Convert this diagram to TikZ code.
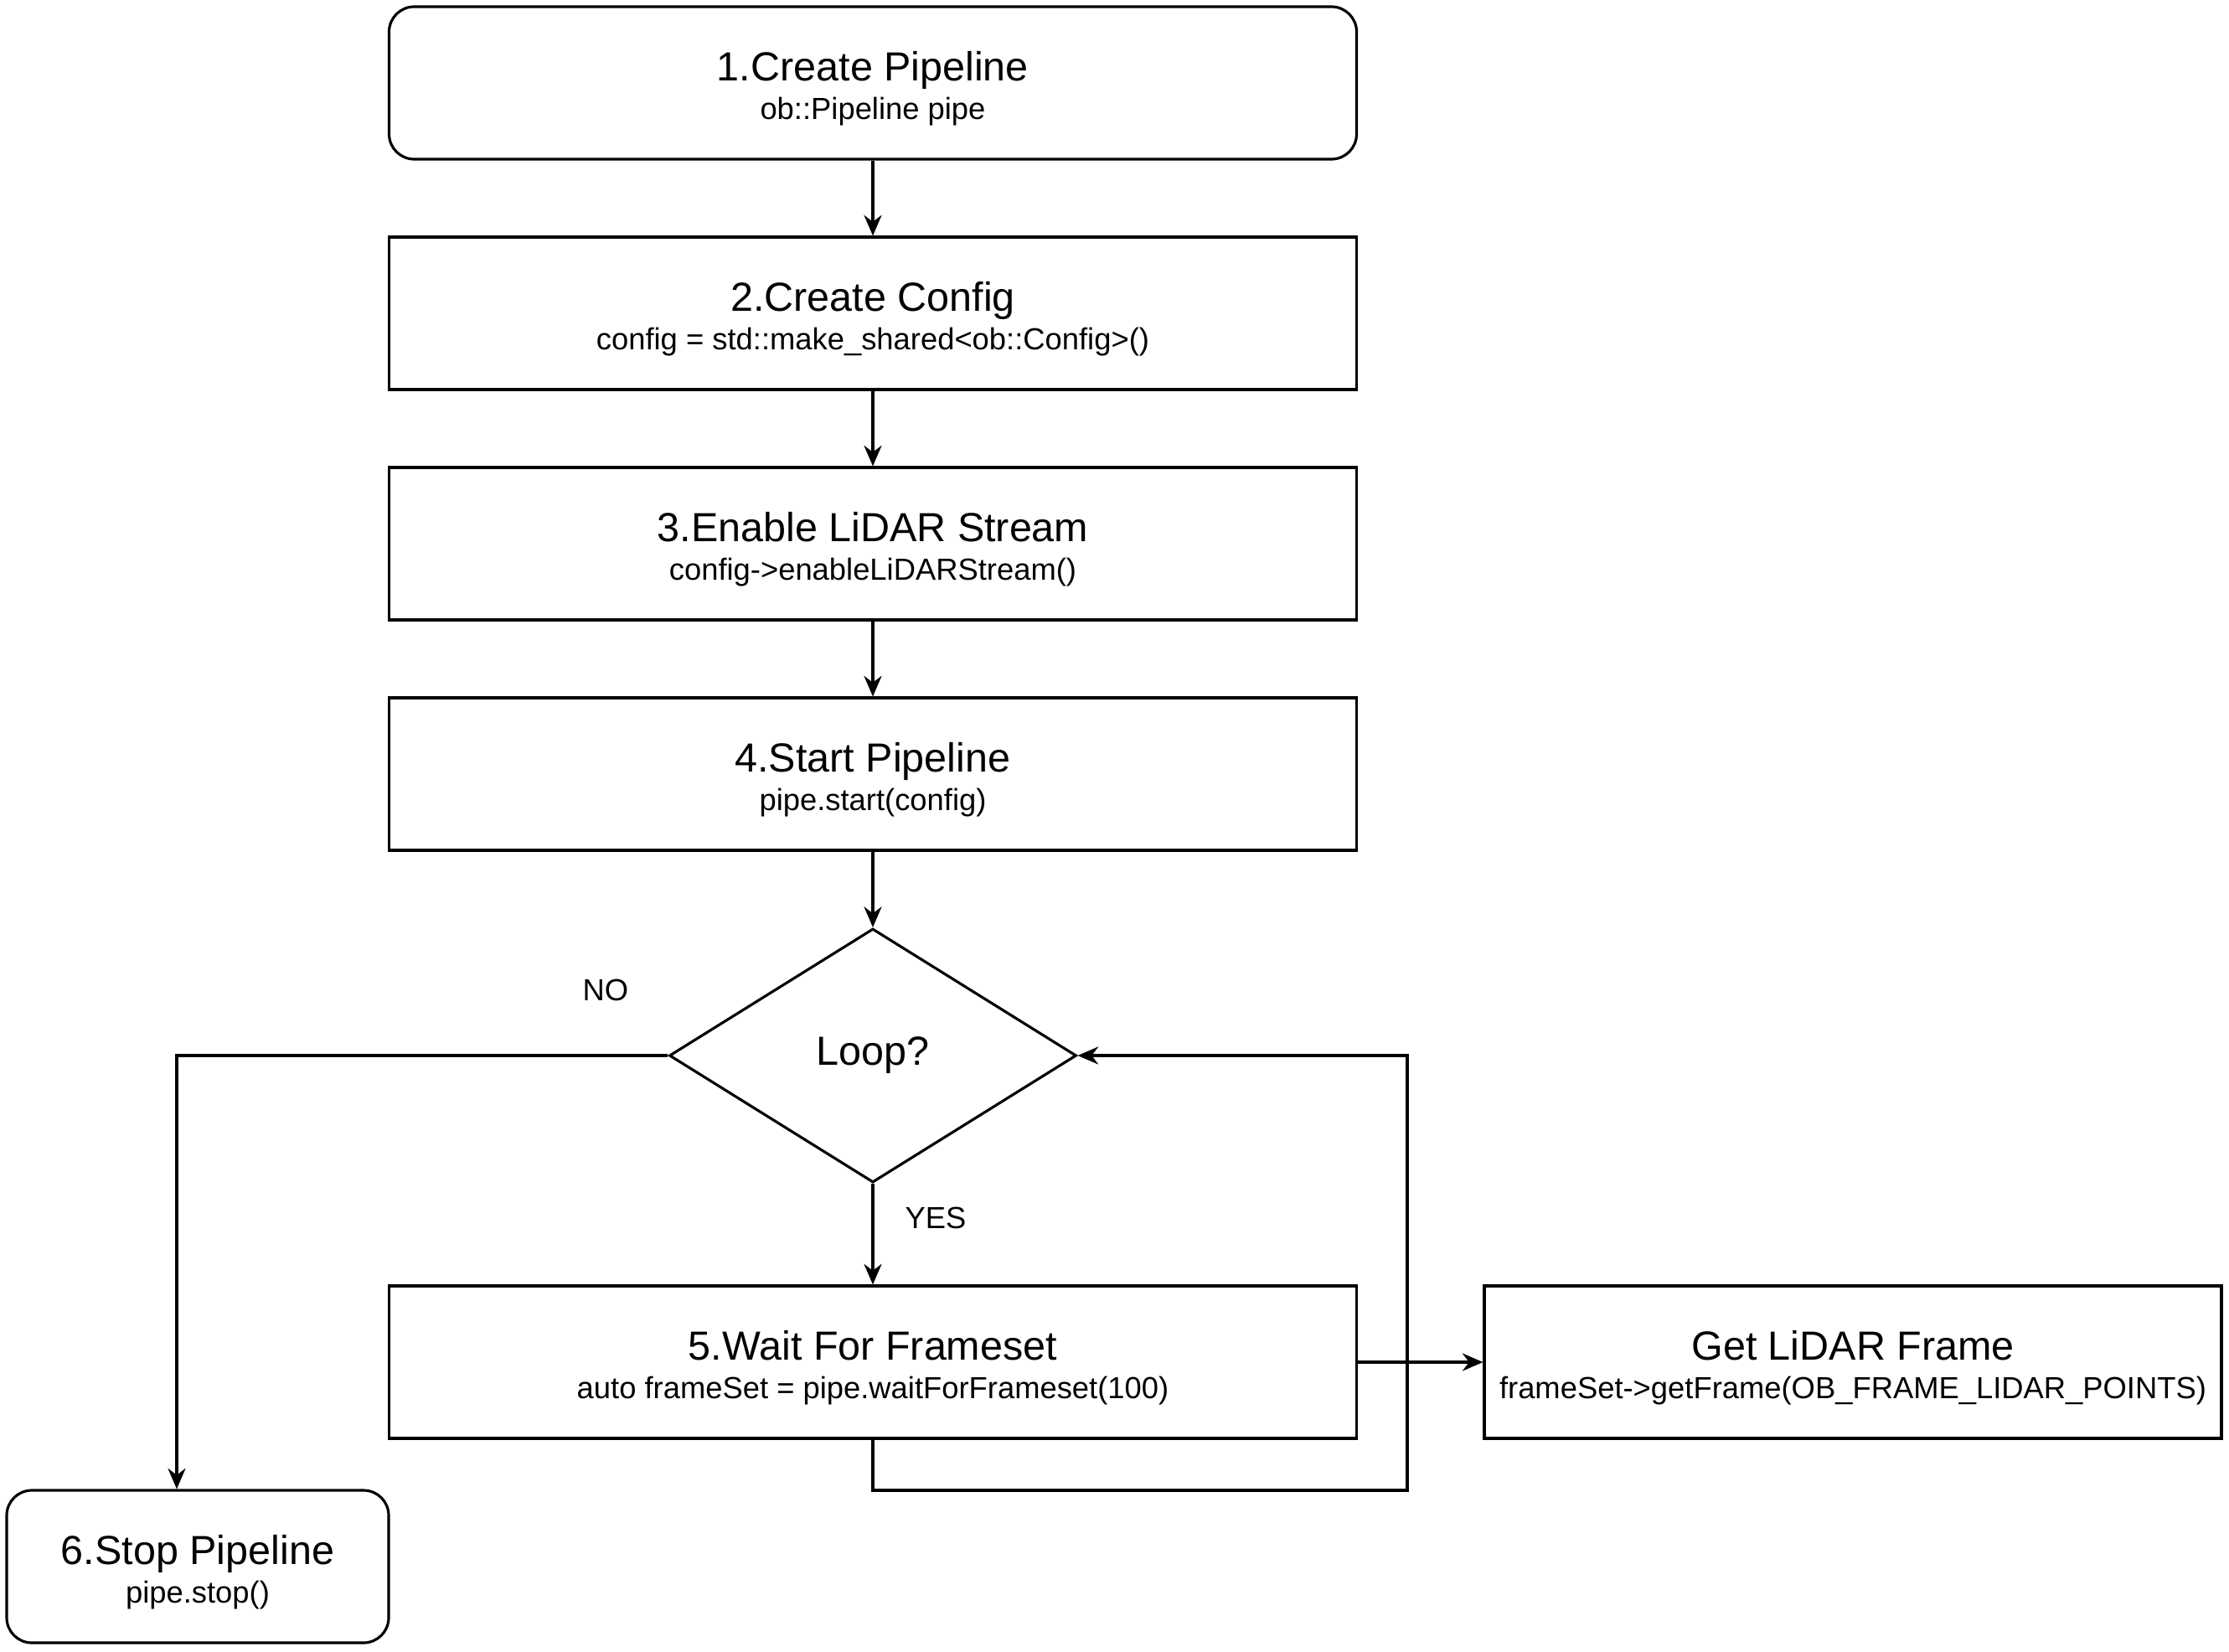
\documentclass[tikz,border=0pt]{standalone}
\usepackage{fontspec}
\setmainfont{Liberation Sans}
\usetikzlibrary{arrows.meta,shapes.geometric}

\newcommand{\steptitle}{\fontsize{13.8}{16}\selectfont}

\begin{document}
\begin{tikzpicture}
%\draw[very thin, color = gray](0, 0) grid (26, -19);
\useasboundingbox (0, 0) rectangle (26.61, -19.71);
\tikzstyle{block} = [draw, rectangle, line width = 0.9pt, align = center,
  minimum width = 11.55cm, minimum height = 1.82cm, inner sep = 2pt,
  text height = 27pt, font = \fontsize{10.35}{13.1}\selectfont];
\tikzstyle{rblock} = [block, rounded corners = 0.3cm];
\tikzstyle{decision} = [draw, diamond, line width = 0.9pt, minimum width = 4.86cm,
  minimum height = 3.03cm, inner sep = 0pt, font = \steptitle];
\tikzstyle{line} = [draw, line width = 0.9pt, -{Stealth[length = 7pt, width = 6pt]}];
\tikzstyle{tag} = [font = \fontsize{10.35}{12}\selectfont];
\node [rblock] at (10.42, -0.99) (create) {{\steptitle 1.Create Pipeline} \\ ob::Pipeline pipe};
\node [block] at (10.42, -3.74) (config) {{\steptitle 2.Create Config} \\ config = std::make\_shared<ob::Config>()};
\node [block] at (10.42, -6.49) (enable) {{\steptitle 3.Enable LiDAR Stream} \\ config->enableLiDARStream()};
\node [block] at (10.42, -9.24) (start) {{\steptitle 4.Start Pipeline} \\ pipe.start(config)};
\node [decision] at (10.42, -12.60) (loop) {Loop?};
\node [block] at (10.42, -16.26) (wait) {{\steptitle 5.Wait For Frameset} \\ auto frameSet = pipe.waitForFrameset(100)};
\node [block, minimum width = 8.8cm] at (22.12, -16.26) (frame) {{\steptitle Get LiDAR Frame} \\ frameSet->getFrame(OB\_FRAME\_LIDAR\_POINTS)};
\node [rblock, minimum width = 4.56cm] at (2.36, -18.70) (stop) {{\steptitle 6.Stop Pipeline} \\ pipe.stop()};
\coordinate (back) at (16.80, -17.79);
\path [line] (create) -- (config);
\path [line] (config) -- (enable);
\path [line] (enable) -- (start);
\path [line] (start) -- (loop);
\path [line] (loop) -- (wait);
\path [line] (loop.west) -| ([xshift = -0.25cm]stop.north);
\path [line] (wait.east) -- (frame.west);
\path [line] (wait.south) |- (back) |- (loop.east);
\node [tag] at (7.23, -11.82) (no) {NO};
\node [tag] at (11.17, -14.54) (yes) {YES};
\end{tikzpicture}
\end{document}
